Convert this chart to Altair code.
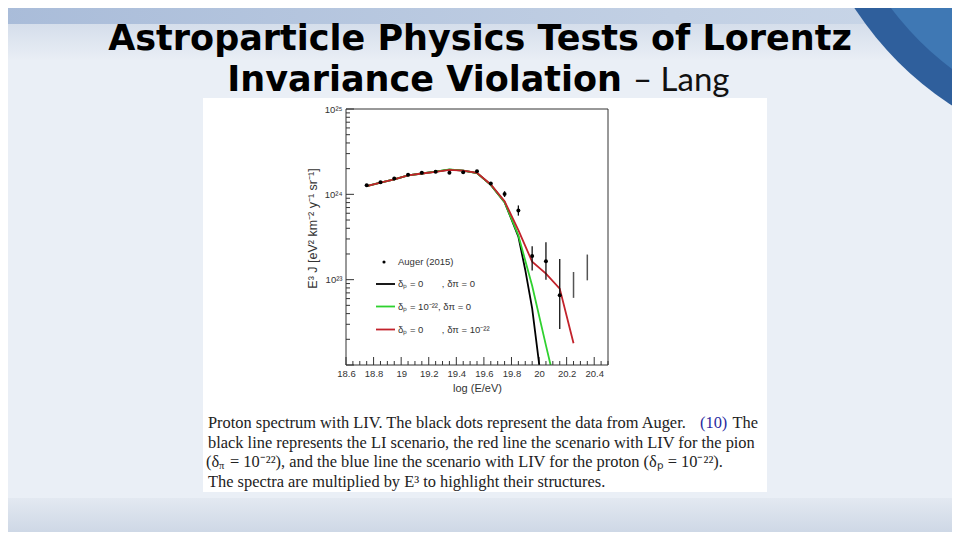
import altair as alt
import pandas as pd

# ---------------- data ----------------
# Auger (2015) points: log10(E/eV) and E^3 J
auger_logE = [18.75, 18.85, 18.95, 19.05, 19.15, 19.25, 19.35, 19.45, 19.55, 19.65, 19.75, 19.85, 19.95, 20.05, 20.15]
auger_flux = [1.274e24, 1.390e24, 1.535e24, 1.694e24, 1.786e24, 1.837e24, 1.786e24, 1.816e24, 1.866e24, 1.343e24, 1.007e24, 6.46e23, 1.888e23, 1.648e23, 6.56e22]
auger_lo = [1.25e24, 1.365e24, 1.51e24, 1.665e24, 1.755e24, 1.80e24, 1.75e24, 1.775e24, 1.815e24, 1.30e24, 9.3e23, 5.63e23, 1.28e23, 1.0e23, 2.64e22]
auger_hi = [1.30e24, 1.415e24, 1.56e24, 1.725e24, 1.82e24, 1.875e24, 1.825e24, 1.86e24, 1.92e24, 1.39e24, 1.09e24, 7.41e23, 2.47e23, 2.74e23, 1.75e23]
# bars drawn without a central point
bar_logE = [20.25, 20.35]
bar_lo = [6.12e22, 9.82e22]
bar_hi = [1.23e23, 1.97e23]

# model curves
black_logE = [18.75, 18.85, 18.95, 19.05, 19.15, 19.25, 19.35, 19.45, 19.55, 19.65, 19.75, 19.85, 19.90, 19.95, 20.00, 20.05]
black_flux = [1.25e24, 1.368e24, 1.493e24, 1.663e24, 1.754e24, 1.845e24, 1.95e24, 1.90e24, 1.775e24, 1.29e24, 8.1e23, 3.2e23, 1.3e23, 4.6e22, 1.05e22, 2.0e21]
green_logE = [18.75, 18.85, 18.95, 19.05, 19.15, 19.25, 19.35, 19.45, 19.55, 19.65, 19.75, 19.85, 19.95, 20.05, 20.15]
green_flux = [1.25e24, 1.368e24, 1.493e24, 1.663e24, 1.754e24, 1.85e24, 1.96e24, 1.90e24, 1.77e24, 1.29e24, 8.1e23, 3.3e23, 8.5e22, 1.7e22, 3.5e21]
red_logE = [18.75, 18.85, 18.95, 19.05, 19.15, 19.25, 19.35, 19.45, 19.55, 19.65, 19.75, 19.85, 19.95, 20.05, 20.15, 20.25]
red_flux = [1.25e24, 1.368e24, 1.493e24, 1.663e24, 1.754e24, 1.837e24, 1.936e24, 1.901e24, 1.786e24, 1.306e24, 8.32e23, 3.80e23, 1.62e23, 1.175e23, 7.85e22, 1.80e22]

x_tick_labels = [18.6, 18.8, 19.0, 19.2, 19.4, 19.6, 19.8, 20.0, 20.2, 20.4]
x_minor_ticks = [18.65, 18.7, 18.75, 18.85, 18.9, 18.95, 19.05, 19.1, 19.15, 19.25, 19.3, 19.35,
                 19.45, 19.5, 19.55, 19.65, 19.7, 19.75, 19.85, 19.9, 19.95, 20.05, 20.1, 20.15,
                 20.25, 20.3, 20.35, 20.45, 20.5]
y_major_ticks = [1e22, 1e23, 1e24, 1e25]
y_minor_ticks = [k * 10.0 ** n for n in (22, 23, 24) for k in range(2, 10)]

NB = "\u00a0"
legend_labels = ["Auger (2015)",
                 "δₚ = 0" + NB * 7 + ", δπ = 0",
                 "δₚ = 10⁻²², δπ = 0",
                 "δₚ = 0" + NB * 7 + ", δπ = 10⁻²²"]
line_colors = ["#000000", "#2fd12f", "#c2222b"]

title_line1 = "Astroparticle Physics Tests of Lorentz"
title_line2_bold = "Invariance Violation"
title_line2_reg = "– Lang"
caption = [
    "Proton spectrum with LIV. The black dots represent the data from Auger.",
    "black line represents the LI scenario, the red line the scenario with LIV for the pion",
    "= 10⁻²²), and the blue line the scenario with LIV for the proton (δₚ = 10⁻²²).",
    "The spectra are multiplied by E³ to highlight their structures.",
]

# ---------------- layout ----------------
W, H = 262, 256
PL, PT = 338, 101
TOTW, TOTH = 944, 524
FONT = "Liberation Sans"

xs = alt.Scale(domain=[18.6, 20.5], nice=False, zero=False)
ys = alt.Scale(type="log", domain=[1e22, 1e25], nice=False)
xaxis = alt.Axis(title="log (E/eV)", values=x_tick_labels, format=".1~f", ticks=False, domain=False,
                 grid=False, labelFlush=False, labelFont=FONT, labelFontSize=9.5, labelColor="#333",
                 labelPadding=3, titleFont=FONT, titleFontSize=11, titleFontWeight="normal",
                 titleColor="#333", titlePadding=5, zindex=2)
yaxis = alt.Axis(title="E³ J [eV² km⁻² y⁻¹ sr⁻¹]", values=[1e23, 1e24, 1e25],
                 labelExpr="datum.value > 5e24 ? '10²⁵' : datum.value > 5e23 ? '10²⁴' : '10²³'",
                 ticks=False, domain=False, grid=False, labelFlush=False, labelFont=FONT,
                 labelFontSize=9.5, labelColor="#333", labelPadding=4, titleFont=FONT, titleFontSize=12.5,
                 titleFontWeight="normal", titleColor="#333", titlePadding=5, titleY=119, zindex=2)

one = pd.DataFrame({"a": [0]})


def px(x):  # page x -> plot coords
    return x - 346


def py(y):
    return y - 109


def box(x1, y1, x2, y2, **kw):
    return alt.Chart(one).mark_rect(**kw).encode(
        x=alt.value(px(x1)), x2=alt.value(px(x2)), y=alt.value(py(y1)), y2=alt.value(py(y2)))


def txt(t, x, y, size, **kw):
    return alt.Chart(one).mark_text(text=t, fontSize=size, **kw).encode(
        x=alt.value(px(x)), y=alt.value(py(y)))


layers = []
# slide decoration
layers.append(box(0, 0, 960, 24, color=alt.Gradient(
    gradient="linear", x1=0, x2=1, y1=0, y2=0,
    stops=[alt.GradientStop(color="#a9bcd9", offset=0), alt.GradientStop(color="#c2d0e4", offset=0.7),
           alt.GradientStop(color="#c9d6e8", offset=1)])))
layers.append(box(0, 24, 960, 60, color=alt.Gradient(
    gradient="linear", x1=0, x2=0, y1=0, y2=1,
    stops=[alt.GradientStop(color="#d5deeb", offset=0), alt.GradientStop(color="#e9eef5", offset=1)])))
layers.append(box(0, 498, 960, 540, color=alt.Gradient(
    gradient="linear", x1=0, x2=0, y1=0, y2=1,
    stops=[alt.GradientStop(color="#e3e9f1", offset=0), alt.GradientStop(color="#c9d4e3", offset=1)])))
layers.append(alt.Chart(one).mark_arc(theta=0, theta2=6.2832, outerRadius=335, color="#2f5f9c").encode(
    x=alt.value(px(1135)), y=alt.value(py(-175))))
layers.append(alt.Chart(one).mark_arc(theta=0, theta2=6.2832, outerRadius=305, color="#3f78b4").encode(
    x=alt.value(px(1135)), y=alt.value(py(-175))))
# white figure panel
layers.append(box(203, 98, 767, 492, color="white"))

# ticks (inward)
tx_major = pd.DataFrame({"x": x_tick_labels})
tx_minor = pd.DataFrame({"x": x_minor_ticks})
ty_major = pd.DataFrame({"y": y_major_ticks})
ty_minor = pd.DataFrame({"y": y_minor_ticks})
layers.append(alt.Chart(tx_major).mark_rule(color="#333", strokeWidth=1).encode(
    x=alt.X("x:Q", scale=xs, axis=xaxis), y=alt.value(H), y2=alt.value(H - 8)))
layers.append(alt.Chart(tx_minor).mark_rule(color="#333", strokeWidth=1).encode(
    x=alt.X("x:Q", scale=xs, axis=xaxis), y=alt.value(H), y2=alt.value(H - 4)))
layers.append(alt.Chart(ty_major).mark_rule(color="#333", strokeWidth=1).encode(
    y=alt.Y("y:Q", scale=ys, axis=yaxis), x=alt.value(0), x2=alt.value(8)))
layers.append(alt.Chart(ty_minor).mark_rule(color="#333", strokeWidth=1).encode(
    y=alt.Y("y:Q", scale=ys, axis=yaxis), x=alt.value(0), x2=alt.value(4)))

# model lines
for lx, ly, col in [(black_logE, black_flux, line_colors[0]), (green_logE, green_flux, line_colors[1]),
                    (red_logE, red_flux, line_colors[2])]:
    d = pd.DataFrame({"x": lx, "y": ly})
    layers.append(alt.Chart(d).mark_line(color=col, strokeWidth=1.8, clip=True).encode(
        x=alt.X("x:Q", scale=xs, axis=xaxis), y=alt.Y("y:Q", scale=ys, axis=yaxis)))

# data
dpts = pd.DataFrame({"x": auger_logE, "y": auger_flux, "lo": auger_lo, "hi": auger_hi})
dbar = pd.DataFrame({"x": bar_logE, "lo": bar_lo, "hi": bar_hi})
layers.append(alt.Chart(dpts).mark_rule(color="#111", strokeWidth=1.3, clip=True).encode(
    x=alt.X("x:Q", scale=xs, axis=xaxis), y=alt.Y("lo:Q", scale=ys, axis=yaxis), y2="hi:Q"))
layers.append(alt.Chart(dbar).mark_rule(color="#555", strokeWidth=1.5, clip=True).encode(
    x=alt.X("x:Q", scale=xs, axis=xaxis), y=alt.Y("lo:Q", scale=ys, axis=yaxis), y2="hi:Q"))
layers.append(alt.Chart(dpts).mark_circle(color="#000", opacity=1, size=16).encode(
    x=alt.X("x:Q", scale=xs, axis=xaxis), y=alt.Y("y:Q", scale=ys, axis=yaxis)))

# legend
layers.append(alt.Chart(one).mark_circle(color="#000", opacity=1, size=10).encode(
    x=alt.value(px(384)), y=alt.value(py(262))))
for i, yy in enumerate([284, 306.5, 329.5]):
    layers.append(alt.Chart(one).mark_rule(color=line_colors[i], strokeWidth=1.8).encode(
        x=alt.value(px(376)), x2=alt.value(px(395)), y=alt.value(py(yy))))
for lab, yy in zip(legend_labels, [262, 284, 306.5, 329.5]):
    layers.append(txt(lab, 398, yy, 9.5, font=FONT, color="#333", align="left", baseline="middle"))

# frame
layers.append(alt.Chart(one).mark_rect(fill=None, stroke="#333", strokeWidth=1).encode(
    x=alt.value(0), x2=alt.value(W), y=alt.value(0), y2=alt.value(H)))

# slide title
TFONT = "DejaVu Sans"
layers.append(txt(title_line1, 480, 50, 35, font=TFONT, fontWeight="bold", color="#000",
                  align="center", baseline="alphabetic"))
layers.append(txt(title_line2_bold, 622, 91, 35, font=TFONT, fontWeight="bold", color="#000",
                  align="right", baseline="alphabetic"))
layers.append(txt(title_line2_reg, 633, 91, 33, font="Lato", color="#111",
                  align="left", baseline="alphabetic"))

# caption
SERIF = "Liberation Serif"
CS = 16.4
layers.append(txt(caption[0], 208, 423, CS, font=SERIF, color="#222", align="left"))
layers.append(txt("The", 758, 423, CS, font=SERIF, color="#222", align="right"))
layers.append(txt("(10)", 700, 423, CS, font=SERIF, color="#2a2aa0", align="left"))
layers.append(txt(caption[1], 208, 443, CS, font=SERIF, color="#222", align="left"))
layers.append(txt("(δ", 206, 462, CS, font=SERIF, color="#222", align="left"))
layers.append(txt("π", 219, 466, 10.5, font=SERIF, color="#222", align="left"))
layers.append(txt(caption[2], 230, 462, CS, font=SERIF, color="#222", align="left"))
layers.append(txt(caption[3], 208, 482, CS, font=SERIF, color="#222", align="left"))

chart = alt.layer(*layers).properties(
    width=W, height=H,
    padding={"left": PL, "top": PT, "right": TOTW - PL - W, "bottom": TOTH - PT - H},
    autosize=alt.AutoSizeParams(type="none"),
).configure(background="#eaeff6").configure_view(stroke=None)

chart.save("out.html", embed_options={"renderer": "svg", "actions": False})
